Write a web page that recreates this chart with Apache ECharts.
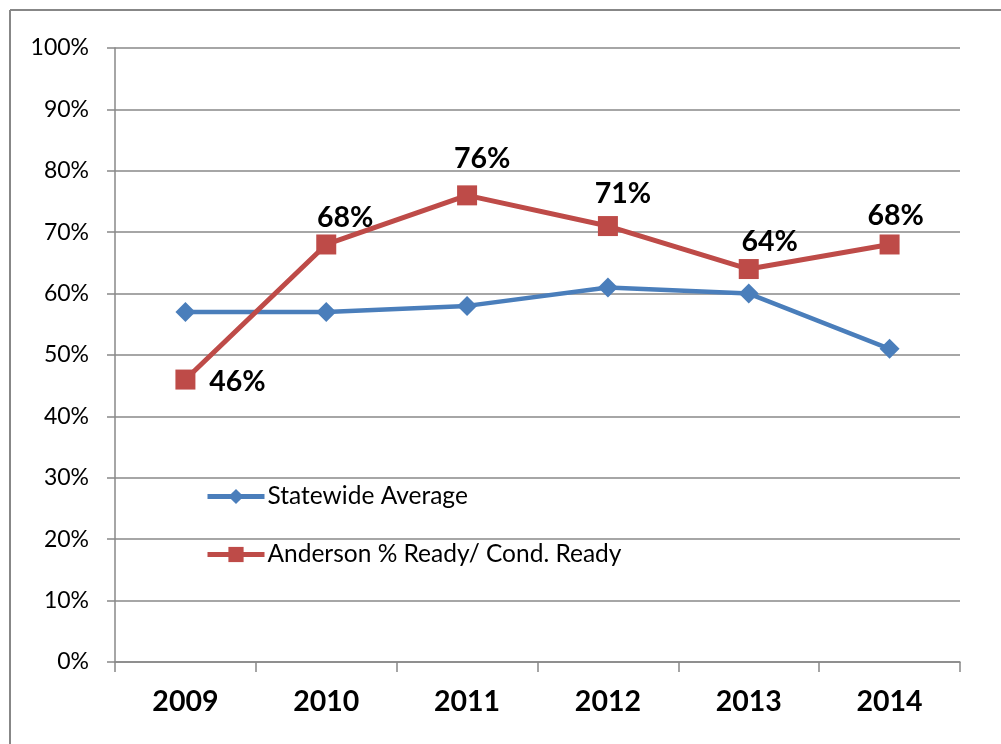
<!DOCTYPE html>
<html>
<head>
<meta charset="utf-8">
<script src="https://cdn.jsdelivr.net/npm/echarts@6/dist/echarts.min.js"></script>
<style>
html,body{margin:0;padding:0;background:#fff;}
#chart{width:1001px;height:744px;}
</style>
</head>
<body>
<div id="chart"></div>
<script>
var categories = ['2009', '2010', '2011', '2012', '2013', '2014'];
var statewideAverage = [57, 57, 58, 61, 60, 51];
var andersonReady = [46, 68, 76, 71, 64, 68];
var seriesNames = ['Statewide Average', 'Anderson % Ready/ Cond. Ready'];
var yTicks = { min: 0, max: 100, interval: 10 };
// label placement (style only)
var labelOffsets = [[52, 2], [19, -27], [15, -37], [15, -32], [21, -27], [6, -29]];

var FONT = 'Lato';
var chart = echarts.init(document.getElementById('chart'), null, { renderer: 'canvas' });

var option = {
  animation: false,
  backgroundColor: '#ffffff',
  graphic: [
    { type: 'line', shape: { x1: 10, y1: 10, x2: 1001, y2: 10 }, style: { stroke: '#878787', lineWidth: 2 } },
    { type: 'line', shape: { x1: 10, y1: 10, x2: 10, y2: 744 }, style: { stroke: '#878787', lineWidth: 2 } }
  ],
  grid: { left: 115, right: 41, top: 48, bottom: 82, containLabel: false },
  legend: {
    orient: 'vertical',
    left: 200,
    top: 479,
    itemWidth: 57,
    itemHeight: 19,
    itemGap: 33,
    data: seriesNames,
    lineStyle: { width: 5 },
    textStyle: { fontFamily: FONT, fontSize: 24.5, color: '#000', lineHeight: 25, padding: [0, 0, 0, -2] }
  },
  xAxis: {
    type: 'category',
    data: categories,
    boundaryGap: true,
    axisLine: { show: true, lineStyle: { color: '#888', width: 1.5 } },
    axisTick: { show: true, length: 10, lineStyle: { color: '#888', width: 1.5 } },
    axisLabel: { fontFamily: FONT, fontSize: 28.5, fontWeight: 'bold', color: '#000', margin: 25 },
    splitLine: { show: false }
  },
  yAxis: {
    type: 'value',
    min: yTicks.min,
    max: yTicks.max,
    interval: yTicks.interval,
    axisLine: { show: true, lineStyle: { color: '#888', width: 1.5 } },
    axisTick: { show: true, length: 8, lineStyle: { color: '#888', width: 1.5 } },
    axisLabel: { formatter: '{value}%', fontFamily: FONT, fontSize: 23, color: '#000', margin: 26 },
    splitLine: { show: true, lineStyle: { color: '#888', width: 1.5 } }
  },
  series: [
    {
      name: seriesNames[0],
      type: 'line',
      data: statewideAverage,
      symbol: 'diamond',
      symbolSize: 20,
      color: '#4A7EBB',
      lineStyle: { color: '#4A7EBB', width: 4.5 },
      itemStyle: { color: '#4A7EBB' },
      label: { show: false }
    },
    {
      name: seriesNames[1],
      type: 'line',
      data: andersonReady.map(function (v, i) {
        return {
          value: v,
          label: { offset: labelOffsets[i] }
        };
      }),
      symbol: 'rect',
      symbolSize: 20,
      color: '#BE4B48',
      lineStyle: { color: '#BE4B48', width: 5 },
      itemStyle: { color: '#BE4B48' },
      label: {
        show: true,
        position: 'inside',
        align: 'center',
        verticalAlign: 'middle',
        formatter: '{c}%',
        fontFamily: FONT,
        fontSize: 28.5,
        fontWeight: 'bold',
        color: '#000'
      }
    }
  ]
};
chart.setOption(option);
</script>
</body>
</html>
